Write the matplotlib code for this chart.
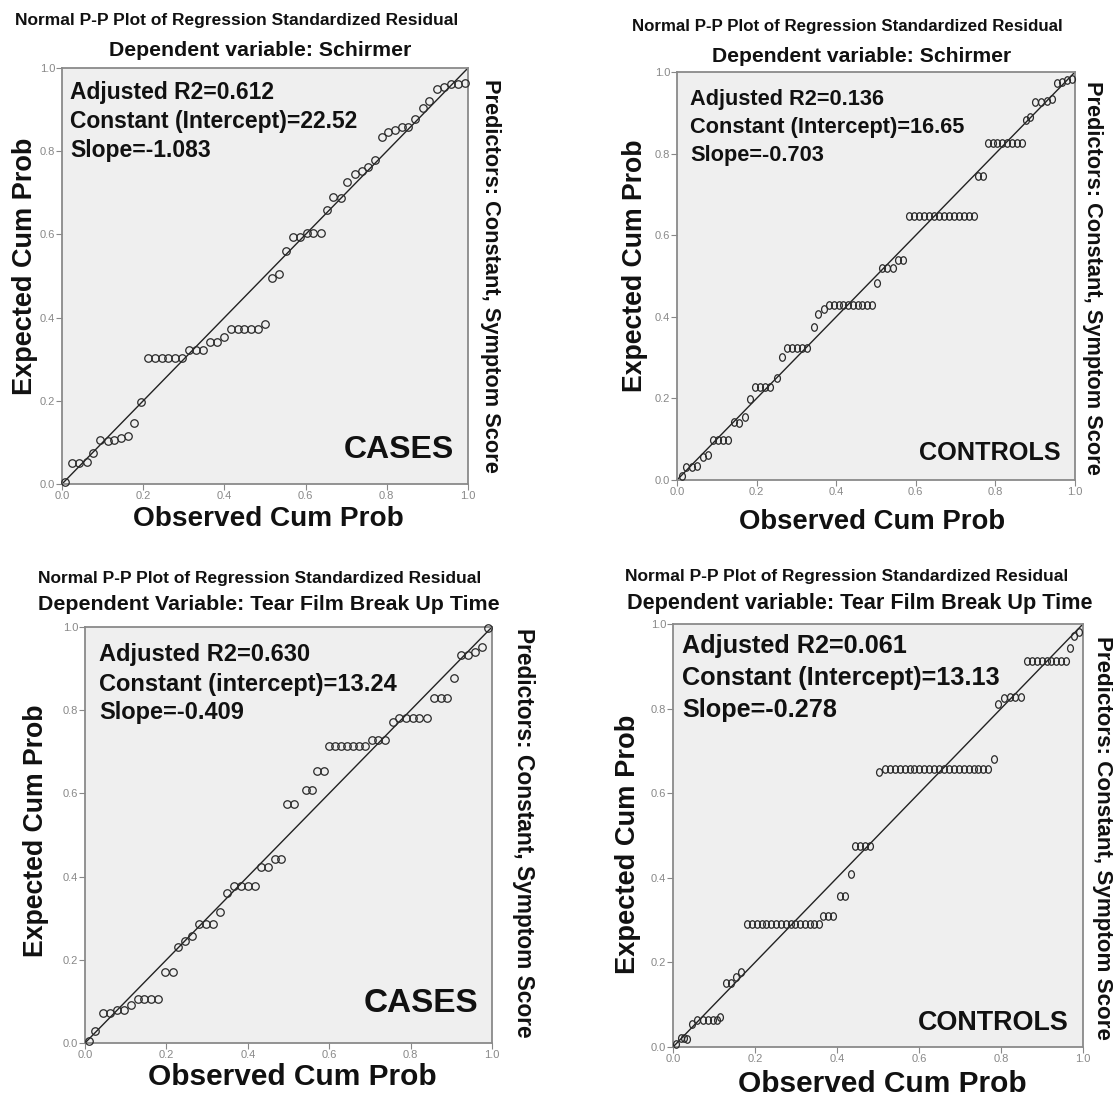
import matplotlib.pyplot as plt
from matplotlib.path import Path
from matplotlib.transforms import Affine2D

plt.rcParams['font.family'] = ['Liberation Sans', 'DejaVu Sans']

W, H = 1113, 1104

# Schirmer - cases
cs_x = [0.007, 0.025, 0.042, 0.061, 0.077, 0.094, 0.113, 0.129, 0.145, 0.162,
        0.178, 0.195, 0.213, 0.229, 0.246, 0.262, 0.278, 0.295, 0.313, 0.329,
        0.348, 0.365, 0.383, 0.400, 0.416, 0.433, 0.449, 0.466, 0.482, 0.500,
        0.518, 0.534, 0.552, 0.570, 0.586, 0.603, 0.619, 0.637, 0.652, 0.668,
        0.686, 0.703, 0.722, 0.738, 0.754, 0.771, 0.787, 0.804, 0.820, 0.837,
        0.853, 0.869, 0.888, 0.905, 0.923, 0.941, 0.957, 0.976, 0.993]
cs_y = [0.005, 0.051, 0.051, 0.054, 0.074, 0.106, 0.104, 0.106, 0.110, 0.116,
        0.147, 0.196, 0.302, 0.302, 0.302, 0.302, 0.302, 0.302, 0.322, 0.322,
        0.322, 0.342, 0.342, 0.353, 0.373, 0.373, 0.373, 0.373, 0.373, 0.385,
        0.494, 0.505, 0.561, 0.594, 0.594, 0.604, 0.604, 0.604, 0.659, 0.689,
        0.687, 0.727, 0.745, 0.752, 0.761, 0.780, 0.834, 0.847, 0.851, 0.859,
        0.859, 0.877, 0.905, 0.921, 0.949, 0.955, 0.962, 0.962, 0.963]

# Schirmer - controls
ks_x = [0.012, 0.023, 0.037, 0.051, 0.065, 0.079, 0.090, 0.102, 0.115, 0.127,
        0.142, 0.157, 0.171, 0.183, 0.196, 0.209, 0.221, 0.234, 0.250, 0.263,
        0.276, 0.288, 0.301, 0.313, 0.326, 0.343, 0.355, 0.369, 0.382, 0.394,
        0.406, 0.418, 0.430, 0.442, 0.454, 0.466, 0.478, 0.490, 0.502, 0.514,
        0.528, 0.542, 0.556, 0.569, 0.584, 0.596, 0.609, 0.621, 0.634, 0.646,
        0.658, 0.671, 0.683, 0.696, 0.708, 0.720, 0.733, 0.745, 0.757, 0.769,
        0.781, 0.793, 0.805, 0.817, 0.830, 0.842, 0.854, 0.866, 0.876, 0.888,
        0.899, 0.914, 0.929, 0.941, 0.954, 0.967, 0.979, 0.992]
ks_y = [0.010, 0.033, 0.031, 0.034, 0.056, 0.061, 0.098, 0.098, 0.098, 0.098,
        0.143, 0.140, 0.155, 0.198, 0.229, 0.229, 0.229, 0.229, 0.249, 0.302,
        0.323, 0.323, 0.323, 0.323, 0.323, 0.376, 0.407, 0.418, 0.429, 0.429,
        0.429, 0.429, 0.429, 0.429, 0.429, 0.429, 0.429, 0.429, 0.484, 0.519,
        0.520, 0.520, 0.539, 0.539, 0.648, 0.648, 0.648, 0.648, 0.648, 0.648,
        0.648, 0.648, 0.648, 0.648, 0.648, 0.648, 0.648, 0.648, 0.744, 0.744,
        0.827, 0.827, 0.827, 0.827, 0.827, 0.827, 0.827, 0.827, 0.882, 0.890,
        0.926, 0.926, 0.929, 0.935, 0.972, 0.976, 0.980, 0.983]

# Tear film break up time - cases
ct_x = [0.009, 0.025, 0.044, 0.062, 0.079, 0.095, 0.112, 0.129, 0.145, 0.163,
        0.179, 0.197, 0.215, 0.228, 0.246, 0.264, 0.280, 0.298, 0.314, 0.331,
        0.349, 0.366, 0.384, 0.400, 0.417, 0.433, 0.450, 0.466, 0.482, 0.496,
        0.514, 0.543, 0.557, 0.569, 0.586, 0.600, 0.615, 0.630, 0.644, 0.659,
        0.674, 0.689, 0.705, 0.721, 0.737, 0.756, 0.772, 0.789, 0.805, 0.821,
        0.840, 0.858, 0.874, 0.890, 0.907, 0.923, 0.942, 0.958, 0.975, 0.991]
ct_y = [0.006, 0.030, 0.071, 0.071, 0.079, 0.079, 0.091, 0.106, 0.106, 0.106,
        0.106, 0.170, 0.170, 0.231, 0.244, 0.257, 0.285, 0.285, 0.285, 0.316,
        0.361, 0.377, 0.377, 0.377, 0.377, 0.424, 0.424, 0.442, 0.442, 0.575,
        0.575, 0.608, 0.608, 0.655, 0.655, 0.715, 0.715, 0.715, 0.715, 0.715,
        0.715, 0.715, 0.728, 0.728, 0.728, 0.771, 0.781, 0.781, 0.781, 0.781,
        0.781, 0.829, 0.829, 0.829, 0.878, 0.933, 0.933, 0.941, 0.951, 0.997]

# Tear film break up time - controls
kt_x = [0.008, 0.019, 0.027, 0.035, 0.046, 0.059, 0.072, 0.085, 0.097, 0.107,
        0.115, 0.129, 0.141, 0.154, 0.166, 0.181, 0.193, 0.204, 0.216, 0.228,
        0.240, 0.251, 0.263, 0.275, 0.287, 0.298, 0.310, 0.322, 0.333, 0.345,
        0.357, 0.367, 0.379, 0.391, 0.407, 0.420, 0.434, 0.444, 0.456, 0.468,
        0.481, 0.503, 0.517, 0.529, 0.541, 0.553, 0.565, 0.577, 0.589, 0.601,
        0.613, 0.625, 0.637, 0.649, 0.661, 0.673, 0.685, 0.697, 0.709, 0.721,
        0.733, 0.745, 0.757, 0.769, 0.783, 0.793, 0.807, 0.822, 0.834, 0.848,
        0.863, 0.875, 0.887, 0.899, 0.911, 0.923, 0.935, 0.947, 0.959, 0.968,
        0.979, 0.990]
kt_y = [0.006, 0.022, 0.022, 0.020, 0.054, 0.064, 0.064, 0.064, 0.064, 0.064,
        0.070, 0.151, 0.151, 0.165, 0.177, 0.290, 0.290, 0.290, 0.290, 0.290,
        0.290, 0.290, 0.290, 0.290, 0.290, 0.290, 0.290, 0.290, 0.290, 0.290,
        0.290, 0.310, 0.310, 0.310, 0.358, 0.358, 0.409, 0.475, 0.475, 0.475,
        0.475, 0.651, 0.657, 0.657, 0.657, 0.657, 0.657, 0.657, 0.657, 0.657,
        0.657, 0.657, 0.657, 0.657, 0.657, 0.657, 0.657, 0.657, 0.657, 0.657,
        0.657, 0.657, 0.657, 0.657, 0.681, 0.812, 0.824, 0.828, 0.828, 0.828,
        0.913, 0.913, 0.913, 0.913, 0.913, 0.913, 0.913, 0.913, 0.913, 0.943,
        0.971, 0.981]

ticks = [0.0, 0.2, 0.4, 0.6, 0.8, 1.0]
tick_labels = ['0.0', '0.2', '0.4', '0.6', '0.8', '1.0']

title1 = 'Normal P-P Plot of Regression Standardized Residual'
predictors = 'Predictors: Constant, Symptom Score'

# narrow circle used for the control groups
oval = Path.unit_circle().transformed(Affine2D().scale(0.78, 1.0))

fig = plt.figure(figsize=(W / 100, H / 100), dpi=100)


def fx(x):
    return x / W


def fy(y):
    return 1 - y / H


def panel(box, xs, ys, marker, ms, stats, stats_pos, stats_size,
          group, group_pos, group_size, titles, ylab, xlab, pred):
    l, t, r, b = box
    ax = fig.add_axes([fx(l), fy(b), (r - l) / W, (b - t) / H])
    ax.set_facecolor('#efefef')
    ax.plot([0, 1], [0, 1], color='#222222', lw=1.0, zorder=2)
    ax.plot(xs, ys, linestyle='none', marker=marker, ms=ms, mfc='none',
            mec='#2a2a2a', mew=0.9, zorder=3, clip_on=False)
    ax.set_xlim(0, 1)
    ax.set_ylim(0, 1)
    ax.set_xticks(ticks)
    ax.set_yticks(ticks)
    ax.set_xticklabels(tick_labels)
    ax.set_yticklabels(tick_labels)
    ax.tick_params(length=4, width=0.8, color='#888888', labelcolor='#888888',
                   labelsize=8, pad=1)
    for s in ax.spines.values():
        s.set_color('#8a8a8a')
        s.set_linewidth(1.3)

    # titles above the plot
    for (txt, x, y, size) in titles:
        fig.text(fx(x), fy(y), txt, ha='left', va='center', fontsize=size,
                 fontweight='bold', color='#111111')

    # regression statistics
    sx, sy, gap = stats_pos
    for i, line in enumerate(stats):
        fig.text(fx(sx), fy(sy + i * gap), line, ha='left', va='center',
                 fontsize=stats_size, fontweight='bold', color='#111111')

    fig.text(fx(group_pos[0]), fy(group_pos[1]), group, ha='right', va='center',
             fontsize=group_size, fontweight='bold', color='#111111')

    fig.text(fx(ylab[0]), fy(ylab[1]), 'Expected Cum Prob', rotation=90,
             ha='center', va='center', fontsize=ylab[2], fontweight='bold',
             color='#111111')
    fig.text(fx(xlab[0]), fy(xlab[1]), 'Observed Cum Prob', ha='center',
             va='center', fontsize=xlab[2], fontweight='bold', color='#111111')
    fig.text(fx(pred[0]), fy(pred[1]), predictors, rotation=-90, ha='center',
             va='center', fontsize=pred[2], fontweight='bold', color='#111111')
    return ax


panel((62, 68, 468, 484), cs_x, cs_y, 'o', 5.4,
      ['Adjusted R2=0.612', 'Constant (Intercept)=22.52', 'Slope=-1.083'],
      (70, 93, 28.5), 16.5, 'CASES', (454, 450), 23,
      [(title1, 15, 20, 12.5), ('Dependent variable: Schirmer', 109, 51, 15.3)],
      (25, 266, 19.5), (268, 519, 20.2), (491, 276, 15.7))

panel((677, 72, 1075, 480), ks_x, ks_y, oval, 5.4,
      ['Adjusted R2=0.136', 'Constant (Intercept)=16.65', 'Slope=-0.703'],
      (690, 99, 28), 15.7, 'CONTROLS', (1061, 453), 18.2,
      [(title1, 632, 26, 12.2), ('Dependent variable: Schirmer', 712, 56, 15.2)],
      (635, 266, 19.2), (872, 522, 19.8), (1092, 278, 15.7))

panel((85, 627, 492, 1043), ct_x, ct_y, 'o', 5.4,
      ['Adjusted R2=0.630', 'Constant (intercept)=13.24', 'Slope=-0.409'],
      (99, 655, 29), 17, 'CASES', (478, 1003), 24,
      [(title1, 38, 578, 12.5),
       ('Dependent Variable: Tear Film Break Up Time', 38, 605, 15.4)],
      (36, 831, 19.2), (292, 1077, 21.5), (524, 833, 16.4))

panel((673, 624, 1083, 1047), kt_x, kt_y, oval, 5.4,
      ['Adjusted R2=0.061', 'Constant (Intercept)=13.13', 'Slope=-0.278'],
      (682, 646, 32), 18.2, 'CONTROLS', (1069, 1023), 19.4,
      [(title1, 625, 577, 12.5),
       ('Dependent variable: Tear Film Break Up Time', 627, 603, 15.6)],
      (628, 844, 19.6), (882, 1084, 21.5), (1102, 838, 16.1))

fig.savefig('out.png', dpi=100)
